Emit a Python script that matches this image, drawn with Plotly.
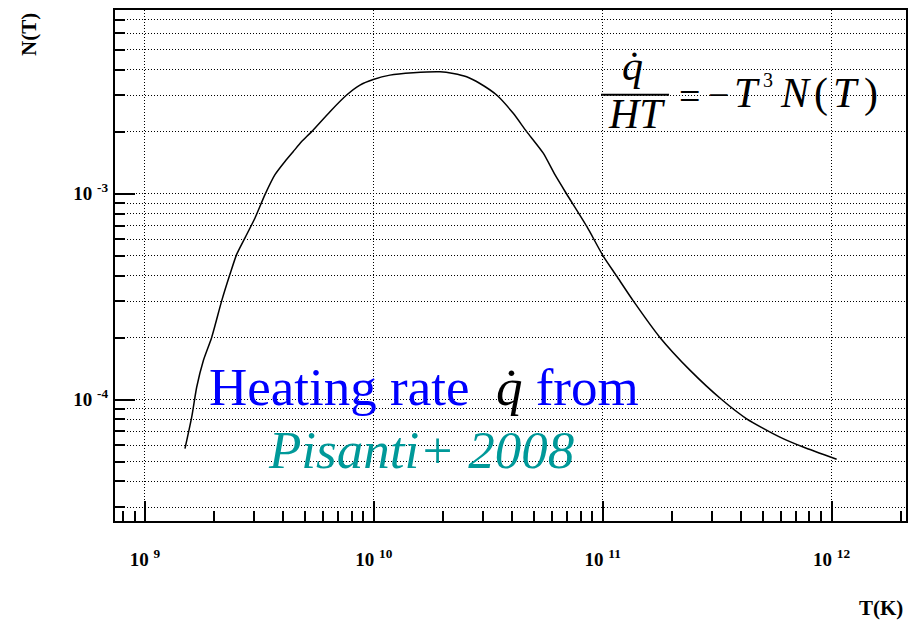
import plotly.graph_objects as go

# ---- data ----
T_K = [1.495e9, 1.60e9, 1.682e9, 1.798e9, 1.956e9, 2.163e9, 2.351e9, 2.515e9,
       2.735e9, 3.025e9, 3.344e9, 3.698e9, 4.089e9, 4.446e9, 4.836e9, 5.348e9,
       6.43e9, 7.606e9, 8.695e9, 9.94e9, 1.176e10, 1.486e10, 1.945e10, 2.223e10,
       2.543e10, 2.907e10, 3.44e10, 4.064e10, 4.651e10, 5.497e10, 6.183e10,
       6.955e10, 8.506e10, 1.005e11, 1.15e11, 1.36e11, 1.778e11, 2.404e11,
       3.307e11, 4.253e11, 5.944e11, 7.516e11, 1.052e12]
N_T = [5.77e-5, 8.21e-5, 1.147e-4, 1.544e-4, 2.002e-4, 3.013e-4, 4.056e-4, 5.07e-4,
       6.10e-4, 7.62e-4, 9.89e-4, 1.236e-3, 1.433e-3, 1.602e-3, 1.79e-3, 2.001e-3,
       2.502e-3, 3.013e-3, 3.367e-3, 3.583e-3, 3.764e-3, 3.862e-3, 3.905e-3, 3.833e-3,
       3.694e-3, 3.428e-3, 3.013e-3, 2.455e-3, 2.001e-3, 1.572e-3, 1.236e-3,
       9.96e-4, 6.945e-4, 4.973e-4, 3.98e-4, 3.013e-4, 2.002e-4, 1.389e-4,
       1.0e-4, 8.065e-5, 6.57e-5, 5.877e-5, 5.125e-5]

x_major = [1e9, 1e10, 1e11, 1e12]
x_major_text = ["<b>10 <sup>9</sup></b>", "<b>10 <sup>10</sup></b>",
                "<b>10 <sup>11</sup></b>", "<b>10 <sup>12</sup></b>"]
x_minor = [m * d for d in (1e8, 1e9, 1e10, 1e11, 1e12) for m in range(2, 10)]
y_major = [1e-4, 1e-3]
y_major_text = ["<b>10 <sup>-4</sup></b>", "<b>10 <sup>-3</sup></b>"]
y_minor = [m * d for d in (1e-5, 1e-4, 1e-3) for m in range(2, 10)]

x_range_log = [8.869, 12.325]
y_range_log = [-4.590, -2.108]

W, H = 917, 620
ML, MR, MT, MB = 115, 11, 8, 99
PW, PH = W - ML - MR, H - MT - MB


def px(x):
    return (x - ML) / PW


def py(y):
    return (H - MB - y) / PH


SERIF = "Liberation Serif, Times New Roman, Times, serif"
DOT = "1px,2px"

fig = go.Figure()
fig.add_trace(go.Scatter(x=T_K, y=N_T, mode="lines",
                         line=dict(color="black", width=1.5, shape="spline", smoothing=0.6),
                         showlegend=False, hoverinfo="skip"))

fig.update_layout(
    width=W, height=H,
    margin=dict(l=ML, r=MR, t=MT, b=MB, pad=0),
    paper_bgcolor="white", plot_bgcolor="white",
    font=dict(family=SERIF, color="black"),
    showlegend=False,
)
fig.update_xaxes(
    type="log", range=x_range_log,
    tickmode="array", tickvals=x_major, ticktext=x_major_text,
    ticks="inside", ticklen=20, tickwidth=2, tickcolor="black",
    tickfont=dict(family=SERIF, size=19, color="black"),
    ticklabelstandoff=20,
    showgrid=True, gridcolor="black", gridwidth=1, griddash=DOT,
    showline=True, linecolor="black", linewidth=2, mirror=True,
    minor=dict(tickmode="array", tickvals=x_minor, ticks="inside", ticklen=10,
               tickwidth=1.5, tickcolor="black", showgrid=False),
    zeroline=False,
)
fig.update_yaxes(
    type="log", range=y_range_log,
    tickmode="array", tickvals=y_major, ticktext=y_major_text,
    ticks="inside", ticklen=20, tickwidth=2, tickcolor="black",
    tickfont=dict(family=SERIF, size=19, color="black"),
    ticklabelstandoff=1,
    showgrid=True, gridcolor="black", gridwidth=1, griddash=DOT,
    showline=True, linecolor="black", linewidth=2, mirror=True,
    minor=dict(tickmode="array", tickvals=y_minor, ticks="inside", ticklen=10,
               tickwidth=1.5, tickcolor="black", showgrid=True,
               gridcolor="black", gridwidth=1, griddash=DOT),
    zeroline=False,
)


def note(text, x, y, size, color="black", xanchor="center", angle=0):
    fig.add_annotation(text=text, xref="paper", yref="paper", x=px(x), y=py(y),
                       xanchor=xanchor, yanchor="middle", textangle=angle,
                       showarrow=False, font=dict(family=SERIF, size=size, color=color))


# axis titles
note("<b>N(T)</b>", 29, 33, 21, angle=-90)
note("<b>T(K)</b>", 905, 608, 21, xanchor="right")

# formula  q̇ / (H T) = -T^3 N(T)
FS = 42
note("<i>q\u0307</i>", 632, 64, FS)
fig.add_shape(type="line", xref="paper", yref="paper",
              x0=px(601), x1=px(669), y0=py(93), y1=py(93),
              line=dict(color="black", width=2))
note("<i>HT</i>", 636, 112, FS)
note("=", 689, 94, 38)
note("\u2212", 718, 93, 38)
note("<i>T</i>", 747, 91, FS)
note("3", 768, 78, 20)
note("<i>N</i>", 795, 91, FS)
note("(", 821, 92, FS)
note("<i>T</i>", 846, 91, FS)
note(")", 871, 92, FS)

# labels
note("Heating rate  <span style='color:black'><i>q\u0307</i></span> from", 207, 386, 53,
     color="#0000ff", xanchor="left")
note("<i>Pisanti+ 2008</i>", 266, 450, 53, color="#009999", xanchor="left")

fig.write_html("out.html")
